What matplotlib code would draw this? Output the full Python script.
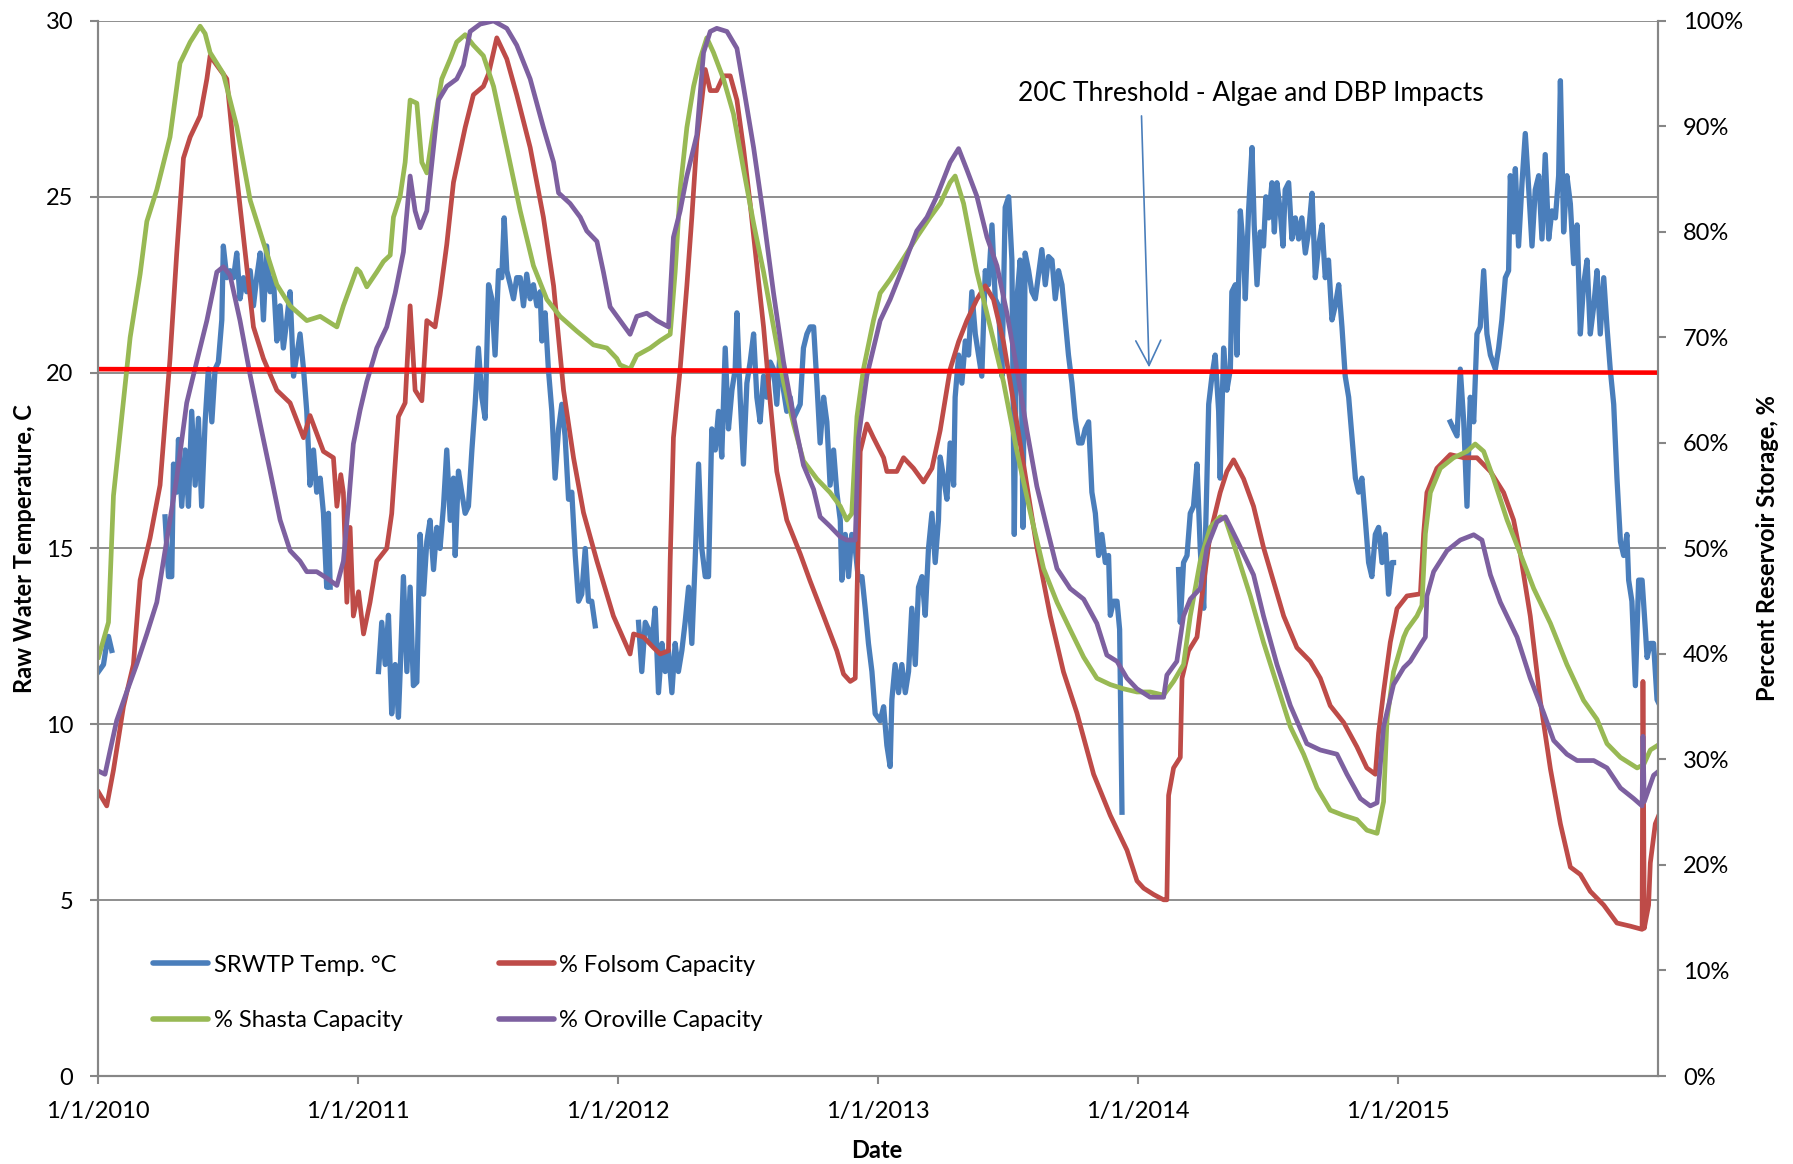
import numpy as np
import pandas as pd
import matplotlib
matplotlib.use("Agg")
import matplotlib.pyplot as plt
from matplotlib.ticker import PercentFormatter

plt.rcParams['font.family'] = ['Lato', 'DejaVu Sans']

nan = np.nan
START = pd.Timestamp('2010-01-01')

# (months since 1/1/2010, value)
srwtp_temp = [
    (0.02, 11.5), (0.25, 11.7), (0.4, 12.3), (0.48, 12.5), (0.63, 12.1), (1.5, nan),
    (3.09, 15.9), (3.25, 14.2), (3.4, 14.2), (3.48, 17.4), (3.63, 16.6), (3.71, 18.1), (3.86, 16.2),
    (4.02, 17.8), (4.17, 16.2), (4.32, 18.9), (4.48, 16.8), (4.63, 18.7), (4.78, 16.2), (4.94, 18.6),
    (5.09, 20.1), (5.25, 18.6), (5.4, 20.1), (5.55, 20.3), (5.71, 21.5), (5.78, 23.6), (5.94, 22.7),
    (6.09, 22.9), (6.25, 22.7), (6.4, 23.4), (6.55, 22.1), (6.71, 22.7), (6.86, 22.3), (7.02, 22.9),
    (7.17, 21.9), (7.32, 22.7), (7.48, 23.4), (7.63, 21.5), (7.78, 23.6), (7.94, 22.3), (8.09, 22.7),
    (8.25, 20.9), (8.4, 21.9), (8.55, 20.7), (8.71, 21.5), (8.86, 22.3), (9.02, 19.9), (9.17, 20.5),
    (9.32, 21.1), (9.48, 20.1), (9.63, 18.9), (9.78, 16.8), (9.94, 17.8), (10.09, 16.6), (10.25, 17.0),
    (10.4, 16.0), (10.55, 13.9), (10.63, 16.0), (10.71, 13.9), (11.5, nan),
    (12.94, 11.5), (13.09, 12.9), (13.25, 11.7), (13.4, 13.1), (13.55, 10.3), (13.71, 11.7), (13.86, 10.2),
    (13.94, 11.5), (14.09, 14.2), (14.25, 11.5), (14.4, 13.9), (14.55, 11.1), (14.71, 11.2), (14.86, 15.4),
    (15.02, 13.7), (15.17, 15.2), (15.32, 15.8), (15.48, 14.4), (15.63, 15.6), (15.78, 15.0), (15.94, 16.2),
    (16.09, 17.8), (16.25, 15.8), (16.4, 17.0), (16.48, 14.8), (16.63, 17.2), (16.78, 16.6), (16.94, 16.0),
    (17.09, 16.2), (17.25, 17.8), (17.4, 19.1), (17.55, 20.7), (17.71, 19.3), (17.86, 18.7), (18.02, 22.5),
    (18.17, 22.1), (18.32, 20.5), (18.48, 22.9), (18.63, 22.7), (18.74, 24.4), (18.86, 22.9), (19.02, 22.5),
    (19.17, 22.1), (19.32, 22.7), (19.48, 22.7), (19.63, 21.9), (19.78, 22.8), (19.94, 22.1), (20.09, 22.5),
    (20.25, 21.9), (20.4, 22.3), (20.48, 20.9), (20.63, 21.7), (20.78, 20.1), (20.94, 18.9), (21.09, 17.0),
    (21.25, 18.4), (21.4, 19.1), (21.55, 18.2), (21.71, 16.4), (21.86, 16.6), (22.02, 14.8), (22.17, 13.5),
    (22.32, 13.7), (22.48, 15.0), (22.63, 13.5), (22.78, 13.5), (22.94, 12.8), (23.8, nan),
    (24.94, 12.9), (25.09, 11.5), (25.25, 12.9), (25.4, 12.7), (25.55, 12.3), (25.71, 13.3), (25.86, 10.9),
    (26.02, 12.3), (26.17, 11.5), (26.32, 12.1), (26.48, 10.9), (26.63, 12.3), (26.78, 11.5), (26.94, 12.1),
    (27.09, 12.9), (27.25, 13.9), (27.4, 12.3), (27.55, 14.6), (27.71, 17.4), (27.86, 15.0), (28.02, 14.2),
    (28.17, 14.2), (28.32, 18.4), (28.48, 17.8), (28.63, 18.9), (28.78, 17.6), (28.94, 20.7), (29.09, 18.4),
    (29.25, 19.5), (29.4, 20.1), (29.48, 21.7), (29.63, 19.3), (29.78, 17.4), (29.94, 19.7), (30.09, 20.3),
    (30.25, 21.1), (30.4, 19.3), (30.55, 18.6), (30.71, 19.9), (30.86, 19.3), (31.02, 20.3), (31.17, 20.1),
    (31.32, 19.1), (31.48, 20.7), (31.63, 19.5), (31.78, 18.9), (31.94, 19.3), (32.09, 18.7), (32.25, 18.9),
    (32.4, 19.1), (32.55, 20.7), (32.71, 21.1), (32.86, 21.3), (33.02, 21.3), (33.17, 19.7), (33.32, 18.0),
    (33.48, 19.3), (33.63, 18.6), (33.78, 16.8), (33.94, 17.8), (34.09, 16.6), (34.25, 15.8), (34.32, 14.1),
    (34.48, 15.4), (34.63, 14.2), (34.78, 15.4), (34.94, 15.0), (35.09, 14.1), (35.25, 14.2), (35.4, 13.3),
    (35.55, 12.3), (35.71, 11.5), (35.86, 10.3), (36.09, 10.1), (36.25, 10.5), (36.4, 9.4), (36.55, 8.8),
    (36.63, 10.7), (36.78, 11.7), (36.94, 10.9), (37.09, 11.7), (37.25, 10.9), (37.4, 11.5), (37.55, 13.3),
    (37.71, 11.7), (37.86, 13.9), (38.02, 14.2), (38.17, 13.1), (38.32, 15.0), (38.48, 16.0), (38.63, 14.6),
    (38.78, 15.8), (38.86, 17.6), (39.02, 17.0), (39.17, 16.4), (39.32, 18.0), (39.48, 16.8), (39.55, 19.3),
    (39.71, 20.5), (39.86, 19.7), (40.02, 20.9), (40.17, 20.5), (40.32, 22.3), (40.48, 21.1), (40.63, 20.5),
    (40.78, 19.9), (40.94, 22.9), (41.09, 22.5), (41.25, 24.2), (41.4, 22.1), (41.55, 21.9), (41.71, 19.9),
    (41.86, 24.7), (42.02, 25.0), (42.17, 23.2), (42.28, 15.4), (42.4, 22.1), (42.55, 23.2), (42.68, 15.6),
    (42.78, 23.4), (42.94, 22.9), (43.09, 22.3), (43.25, 22.1), (43.4, 22.8), (43.55, 23.5), (43.71, 22.5),
    (43.86, 23.3), (44.02, 23.2), (44.17, 22.1), (44.32, 22.9), (44.48, 22.5), (44.63, 21.5), (44.78, 20.5),
    (44.94, 19.7), (45.09, 18.7), (45.25, 18.0), (45.4, 18.0), (45.55, 18.4), (45.71, 18.6), (45.86, 16.6),
    (46.02, 16.0), (46.17, 14.8), (46.32, 15.4), (46.48, 14.6), (46.63, 14.8), (46.71, 13.1), (46.86, 13.5),
    (47.02, 13.5), (47.14, 12.7), (47.25, 7.5), (48.5, nan),
    (49.86, 14.4), (49.94, 12.9), (50.09, 14.6), (50.25, 14.8), (50.4, 16.0), (50.55, 16.2), (50.71, 17.4),
    (50.86, 15.0), (51.02, 13.3), (51.17, 17.0), (51.25, 19.1), (51.4, 19.9), (51.55, 20.5), (51.71, 18.9),
    (51.78, 17.0), (51.94, 20.7), (52.09, 19.5), (52.25, 20.1), (52.32, 22.3), (52.48, 22.5), (52.55, 20.5),
    (52.71, 24.6), (52.86, 23.4), (52.94, 22.1), (53.09, 24.6), (53.25, 26.4), (53.35, 24.2), (53.48, 22.5),
    (53.63, 24.0), (53.78, 23.6), (53.89, 25.0), (54.02, 24.4), (54.17, 25.4), (54.28, 24.0), (54.4, 25.4),
    (54.55, 24.6), (54.68, 23.6), (54.78, 25.2), (54.94, 25.4), (55.09, 23.8), (55.25, 24.4), (55.4, 23.8),
    (55.55, 24.4), (55.71, 23.4), (55.86, 24.0), (56.02, 25.1), (56.17, 22.7), (56.32, 23.6), (56.48, 24.2),
    (56.63, 22.7), (56.78, 23.2), (56.94, 21.5), (57.09, 21.9), (57.25, 22.5), (57.4, 21.3), (57.55, 19.9),
    (57.71, 19.3), (57.86, 18.2), (58.02, 17.0), (58.17, 16.6), (58.32, 17.0), (58.48, 15.8), (58.63, 14.6),
    (58.78, 14.2), (58.94, 15.4), (59.09, 15.6), (59.25, 14.6), (59.4, 15.4), (59.55, 13.7), (59.71, 14.6),
    (59.78, 14.6), (61.0, nan),
    (62.4, 18.6), (62.55, 18.4), (62.71, 18.2), (62.86, 20.1), (63.02, 18.6), (63.17, 16.2), (63.32, 19.3),
    (63.48, 18.6), (63.63, 21.1), (63.78, 21.3), (63.94, 22.9), (64.09, 21.1), (64.25, 20.5), (64.48, 20.1),
    (64.63, 20.7), (64.78, 21.5), (64.94, 22.7), (65.09, 22.9), (65.17, 25.6), (65.32, 24.0), (65.4, 25.8),
    (65.55, 23.6), (65.71, 25.4), (65.86, 26.8), (66.02, 25.2), (66.17, 23.6), (66.32, 25.2), (66.48, 25.6),
    (66.63, 23.8), (66.78, 26.2), (66.94, 23.8), (67.09, 24.6), (67.25, 24.4), (67.4, 25.6), (67.48, 28.3),
    (67.63, 24.0), (67.78, 25.6), (67.94, 24.8), (68.09, 23.1), (68.25, 24.2), (68.4, 21.1), (68.55, 22.5),
    (68.71, 23.2), (68.86, 21.1), (69.02, 21.9), (69.17, 22.9), (69.32, 21.1), (69.48, 22.7), (69.63, 21.3),
    (69.78, 20.1), (69.94, 19.1), (70.09, 17.0), (70.25, 15.2), (70.4, 14.8), (70.55, 15.4), (70.63, 14.1),
    (70.78, 13.5), (70.94, 11.1), (71.09, 14.1), (71.25, 14.1), (71.4, 12.7), (71.48, 11.9), (71.63, 12.3),
    (71.78, 12.3), (71.94, 10.7), (72.02, 10.6),
]

folsom_pct = [
    (0.02, 26.9), (0.4, 25.6), (0.71, 29), (1.17, 35), (1.63, 39), (1.94, 47), (2.4, 51), (2.86, 56),
    (3.32, 68), (3.63, 78), (3.94, 87), (4.25, 89), (4.71, 91), (5.02, 94.5), (5.17, 96.7), (5.48, 95.8),
    (5.94, 94.5), (6.25, 88), (6.71, 79.5), (7.17, 71), (7.63, 68), (8.25, 65), (8.86, 63.8), (9.48, 60.5),
    (9.78, 62.6), (10.4, 59.2), (10.86, 58.6), (11.02, 54), (11.2, 57), (11.32, 55.3), (11.48, 44.9),
    (11.63, 52), (11.78, 43.6), (12.02, 45.9), (12.25, 41.9), (12.55, 44.9), (12.86, 48.8), (13.32, 50),
    (13.55, 53.3), (13.86, 62.5), (14.17, 63.8), (14.4, 73), (14.63, 65), (14.94, 64), (15.17, 71.6),
    (15.55, 71), (15.78, 74), (16.09, 78.8), (16.4, 84.7), (16.94, 89.9), (17.32, 93), (17.78, 93.8),
    (18.02, 95), (18.4, 98.4), (18.86, 96.4), (19.32, 93), (19.94, 88), (20.55, 81.4), (21.02, 74.9),
    (21.48, 65), (21.94, 58.6), (22.4, 53.4), (23.02, 48.8), (23.78, 43.6), (24.55, 40), (24.71, 41.9),
    (25.17, 41.6), (25.63, 40.6), (25.94, 40), (26.32, 40.3), (26.4, 48.8), (26.55, 60.5), (26.86, 67),
    (27.17, 74.9), (27.4, 81.4), (27.63, 88.6), (27.86, 92.5), (28.02, 95.4), (28.25, 93.4), (28.55, 93.4),
    (28.86, 94.8), (29.17, 94.8), (29.48, 92.5), (29.78, 88), (30.09, 82.7), (30.4, 76.8), (30.71, 71),
    (31.02, 63.8), (31.32, 57.3), (31.78, 52.7), (32.4, 49.5), (32.86, 46.9), (33.48, 43.6), (34.09, 40.3),
    (34.4, 38.1), (34.71, 37.4), (34.94, 37.7), (35.02, 45.5), (35.17, 59.2), (35.48, 61.8), (35.78, 60.5),
    (36.25, 58.6), (36.4, 57.3), (36.86, 57.3), (37.17, 58.6), (37.63, 57.6), (38.09, 56.3), (38.48, 57.6),
    (38.86, 61.2), (39.32, 67), (39.71, 69.6), (40.09, 71.6), (40.55, 73.6), (40.94, 74.9), (41.32, 73.6),
    (41.78, 69.6), (42.25, 63.8), (42.71, 57.9), (43.32, 50.1), (43.94, 43.6), (44.55, 38.3), (45.17, 34.4),
    (45.94, 28.6), (46.71, 24.7), (47.48, 21.4), (47.94, 18.5), (48.25, 17.8), (48.71, 17.2), (49.17, 16.7),
    (49.32, 16.7), (49.4, 26.6), (49.63, 29.2), (49.94, 30.2), (50.02, 37.7), (50.32, 40.3), (50.71, 41.6),
    (50.94, 45.5), (51.32, 51.4), (51.78, 55.3), (52.09, 57.3), (52.4, 58.4), (52.86, 56.6), (53.32, 54),
    (53.78, 50.1), (54.25, 46.8), (54.71, 43.6), (55.32, 40.6), (55.94, 39.3), (56.4, 37.7), (56.86, 35.1),
    (57.48, 33.5), (58.09, 31.2), (58.55, 29.2), (58.94, 28.6), (59.09, 32.5), (59.32, 36.4), (59.63, 41.1),
    (59.94, 44.3), (60.4, 45.5), (61.02, 45.7), (61.17, 51.4), (61.32, 55.3), (61.78, 57.6), (62.4, 58.9),
    (63.02, 58.6), (63.63, 58.6), (64.25, 57.3), (64.86, 55.3), (65.32, 52.7), (65.63, 49.5), (66.09, 43.6),
    (66.55, 35.6), (67.02, 29.1), (67.48, 23.9), (67.94, 19.8), (68.4, 19.1), (68.86, 17.5), (69.48, 16.2),
    (70.09, 14.5), (70.71, 14.2), (71.25, 13.9), (71.29, 37.4), (71.35, 14.0), (71.55, 16.2), (71.63, 20.2),
    (71.86, 23.9), (72.02, 24.7),
]

shasta_pct = [
    (0.02, 39.7), (0.48, 43), (0.71, 55), (1.17, 64), (1.48, 70), (1.94, 76), (2.25, 81), (2.71, 84),
    (3.32, 89), (3.78, 96), (4.25, 98), (4.71, 99.5), (4.94, 98.8), (5.17, 97), (5.78, 95), (6.4, 90),
    (7.02, 83), (7.63, 79), (8.25, 75), (8.86, 73), (9.63, 71.6), (10.25, 72), (11.02, 71), (11.32, 73),
    (11.94, 76.5), (12.09, 76.2), (12.4, 74.8), (12.86, 76.2), (13.17, 77.2), (13.48, 77.8), (13.63, 81.4),
    (13.94, 83.4), (14.17, 86.6), (14.4, 92.5), (14.71, 92.2), (14.94, 86.6), (15.17, 85.6), (15.48, 89.9),
    (15.86, 94.5), (16.25, 96.4), (16.55, 98), (16.94, 98.7), (17.32, 97.7), (17.78, 96.7), (18.25, 93.8),
    (18.86, 88), (19.48, 82), (20.09, 76.8), (20.71, 73.6), (21.32, 72), (22.09, 70.6), (22.86, 69.3),
    (23.48, 69), (23.94, 68), (24.09, 67.4), (24.55, 67), (24.86, 68.3), (25.48, 69), (25.94, 69.7),
    (26.4, 70.3), (26.63, 76.2), (26.86, 84), (27.17, 89.9), (27.48, 93.8), (27.78, 96.4), (28.09, 98.4),
    (28.4, 97), (28.86, 94.5), (29.32, 91.2), (29.78, 86), (30.25, 80.8), (30.71, 76.2), (31.17, 71),
    (31.63, 65.8), (32.09, 61.8), (32.55, 58.3), (33.17, 56.6), (33.78, 55.3), (34.25, 54), (34.55, 52.7),
    (34.78, 53.3), (35.02, 62.5), (35.32, 67), (35.78, 71.6), (36.09, 74.2), (36.55, 75.5), (37.17, 77.5),
    (37.78, 79.5), (38.4, 81.4), (38.86, 82.7), (39.32, 84.7), (39.55, 85.3), (39.94, 82.7), (40.55, 76.2),
    (41.17, 71), (41.78, 65.8), (42.4, 59.2), (43.02, 53.4), (43.63, 48.1), (44.25, 44.9), (44.86, 42.3),
    (45.48, 39.7), (46.09, 37.7), (46.71, 37.1), (47.32, 36.7), (47.94, 36.4), (48.55, 36.4), (49.17, 36.1),
    (49.63, 37.4), (50.09, 39), (50.4, 43.6), (50.86, 48.8), (51.32, 52), (51.78, 53), (52.02, 52.8),
    (52.55, 49.5), (53.17, 45.5), (53.78, 41.1), (54.4, 37.1), (55.02, 33.1), (55.63, 30.5), (56.25, 27.3),
    (56.86, 25.2), (57.48, 24.7), (58.09, 24.3), (58.55, 23.3), (59.02, 23), (59.32, 26), (59.48, 33.8),
    (59.78, 38.3), (60.25, 41.6), (60.4, 42.3), (60.86, 43.6), (61.09, 44.6), (61.25, 51.4), (61.48, 55.3),
    (61.94, 57.6), (62.55, 58.6), (63.17, 59.2), (63.55, 59.9), (63.94, 59.2), (64.4, 56.6), (65.02, 52.7),
    (65.63, 49.5), (66.25, 46.2), (67.02, 42.9), (67.78, 39), (68.55, 35.6), (69.17, 33.8), (69.63, 31.5),
    (70.25, 30.2), (71.02, 29.2), (71.32, 29.5), (71.63, 30.9), (71.94, 31.3),
]

oroville_pct = [
    (0.02, 28.9), (0.32, 28.6), (0.55, 30.8), (0.86, 33.7), (1.32, 36.4), (1.78, 39), (2.25, 41.9),
    (2.71, 44.9), (3.17, 50.8), (3.63, 56.7), (4.09, 63.8), (4.55, 67.7), (5.02, 71.6), (5.48, 76.2),
    (5.78, 76.7), (6.09, 75.9), (6.55, 71.6), (7.02, 66.4), (7.48, 61.8), (7.94, 57.3), (8.4, 52.7),
    (8.86, 49.8), (9.32, 48.8), (9.63, 47.8), (10.09, 47.8), (10.55, 47.2), (11.02, 46.5), (11.32, 48.8),
    (11.55, 54), (11.78, 59.9), (12.09, 63.1), (12.4, 65.8), (12.86, 69), (13.32, 71), (13.71, 74.2),
    (14.09, 78.1), (14.4, 85.3), (14.63, 82), (14.86, 80.4), (15.17, 82), (15.71, 92.5), (16.09, 93.8),
    (16.55, 94.5), (16.86, 95.8), (17.17, 99), (17.63, 99.7), (18.25, 100), (18.86, 99.3), (19.32, 97.7),
    (19.94, 94.5), (20.55, 89.9), (21.02, 86.6), (21.25, 83.7), (21.78, 82.7), (22.25, 81.4), (22.55, 80.1),
    (23.02, 79.1), (23.32, 76.2), (23.63, 72.9), (24.09, 71.6), (24.55, 70.3), (24.86, 72), (25.32, 72.3),
    (25.78, 71.6), (26.32, 71), (26.55, 79.5), (26.86, 82), (27.17, 85.3), (27.63, 89.2), (27.94, 97),
    (28.25, 99), (28.55, 99.3), (29.02, 99), (29.48, 97.4), (29.78, 93.8), (30.25, 88), (30.71, 81.4),
    (31.17, 74.2), (31.63, 67.7), (32.09, 62.5), (32.55, 57.9), (33.02, 55.6), (33.32, 53), (33.78, 52.1),
    (34.25, 51.1), (34.55, 50.8), (34.94, 50.8), (35.09, 60.5), (35.48, 66.4), (35.94, 70.3), (36.09, 71.6),
    (36.55, 73.6), (37.17, 76.8), (37.78, 80.1), (38.25, 81.4), (38.71, 83.4), (39.32, 86.6), (39.71, 87.9),
    (40.09, 85.9), (40.55, 83.4), (41.02, 79.5), (41.48, 76.8), (41.94, 72.3), (42.4, 67), (42.86, 61.2),
    (43.32, 55.9), (43.78, 52), (44.25, 48.1), (44.86, 46.2), (45.48, 45.2), (46.09, 42.9), (46.55, 39.9),
    (47.02, 39.3), (47.48, 37.7), (47.94, 36.7), (48.55, 35.9), (49.17, 35.9), (49.32, 38), (49.78, 39.3),
    (50.09, 43.6), (50.4, 45.2), (50.86, 46.2), (51.17, 50.1), (51.63, 52.5), (52.02, 53), (52.55, 50.8),
    (53.32, 47.5), (53.78, 43.6), (54.4, 39), (55.02, 35.1), (55.78, 31.5), (56.4, 30.9), (57.17, 30.5),
    (57.63, 28.6), (58.25, 26.3), (58.71, 25.6), (59.02, 25.9), (59.32, 33.1), (59.78, 37.1), (60.25, 38.7),
    (60.55, 39.3), (61.09, 41.1), (61.25, 41.6), (61.32, 45.5), (61.63, 47.8), (62.25, 49.8), (62.86, 50.8),
    (63.48, 51.3), (63.86, 50.8), (64.25, 47.5), (64.71, 44.9), (65.48, 41.6), (66.09, 37.7), (66.71, 34.4),
    (67.17, 31.8), (67.78, 30.5), (68.25, 29.9), (69.02, 29.9), (69.63, 29.2), (70.25, 27.3), (70.86, 26.3),
    (71.25, 25.6), (71.29, 32.2), (71.35, 26.0), (71.78, 28.5), (72.02, 28.9),
]

# 20C threshold line (drawn by hand in the original, slightly sloped)
threshold_c = [(0.0, 20.1), (72.0, 20.0)]
year_ticks = [2010, 2011, 2012, 2013, 2014, 2015]
annotation = '20C Threshold - Algae and DBP Impacts'


def unpack(pairs):
    arr = np.array(pairs, dtype=float)
    dates = START + pd.to_timedelta(arr[:, 0] * 30.4375, unit='D')
    return dates, arr[:, 1]


def month_date(m):
    return START + pd.Timedelta(days=m * 30.4375)


GRAY = '#868686'
BLUE = '#4a7ebb'
RED = '#be4b48'
GREEN = '#98b954'
PURPLE = '#7d60a0'
FS = 17

fig = plt.figure(figsize=(17.93, 11.64), dpi=100)
ax = fig.add_axes([0.0547, 0.0756, 0.870, 0.9064])
ax2 = ax.twinx()

x, y = unpack(srwtp_temp)
l_temp, = ax.plot(x, y, color=BLUE, lw=3.8, solid_joinstyle='round', label='SRWTP Temp. °C')

x, y = unpack(folsom_pct)
l_fol, = ax2.plot(x, y, color=RED, lw=3.4, solid_joinstyle='round', label='% Folsom Capacity')
x, y = unpack(shasta_pct)
l_sha, = ax2.plot(x, y, color=GREEN, lw=3.4, solid_joinstyle='round', label='% Shasta Capacity')
x, y = unpack(oroville_pct)
l_oro, = ax2.plot(x, y, color=PURPLE, lw=3.4, solid_joinstyle='round', label='% Oroville Capacity')

x, y = unpack(threshold_c)
ax2.plot(x, y * 100 / 30, color='#ff0000', lw=3.3, solid_capstyle='butt')

# annotation
ax2.text(month_date(53.2), 27.95 * 100 / 30, annotation, ha='center', va='center', fontsize=19)
ax2.annotate('', xy=(month_date(48.5), 20.15 * 100 / 30), xytext=(month_date(48.15), 27.3 * 100 / 30),
             arrowprops=dict(arrowstyle='->,head_length=0.9,head_width=0.45', color=BLUE, lw=1.2,
                             shrinkA=0, shrinkB=0, mutation_scale=20))

# axes limits and ticks
ax.set_xlim(START, pd.Timestamp('2016-01-01'))
ax.set_ylim(0, 30)
ax2.set_ylim(0, 100)
ax.set_yticks(np.arange(0, 31, 5))
ax2.set_yticks(np.arange(0, 101, 10))
ax2.yaxis.set_major_formatter(PercentFormatter(decimals=0))
ax.set_xticks([pd.Timestamp(f'{yr}-01-01') for yr in year_ticks])
ax.set_xticklabels([f'1/1/{yr}' for yr in year_ticks])

ax.grid(axis='y', color=GRAY, lw=1.3)
ax.set_axisbelow(True)

for a in (ax, ax2):
    for side in ('left', 'right', 'bottom'):
        a.spines[side].set_color(GRAY)
        a.spines[side].set_linewidth(1.5)
    a.spines['top'].set_visible(False)
ax.tick_params(axis='both', which='major', direction='out', length=6, width=1.5,
               color=GRAY, labelsize=FS, pad=12)
ax2.tick_params(axis='y', direction='out', length=6, width=1.5, color=GRAY, labelsize=FS, pad=12)

ax.set_ylabel('Raw Water Temperature, C', fontsize=FS, fontweight='bold')
ax.yaxis.set_label_coords(-0.040, 0.5)
ax2.set_ylabel('Percent Reservoir Storage, %', fontsize=FS, fontweight='bold', rotation=90)
ax2.yaxis.set_label_coords(1.063, 0.5)
ax.set_xlabel('Date', fontsize=FS, fontweight='bold', va='center')
ax.xaxis.set_label_coords(0.4994, -0.071)

leg = ax2.legend(handles=[l_temp, l_sha, l_fol, l_oro], ncol=2, loc='upper left',
                 bbox_to_anchor=(0.0355, 0.115), frameon=False, fontsize=17, handlelength=2.3,
                 handletextpad=0.25, columnspacing=4.1, labelspacing=1.45, borderpad=0,
                 borderaxespad=0)
for h in leg.legend_handles:
    h.set_linewidth(4.0)
    h.set_solid_capstyle('round')

fig.savefig('out.png', dpi=100)
